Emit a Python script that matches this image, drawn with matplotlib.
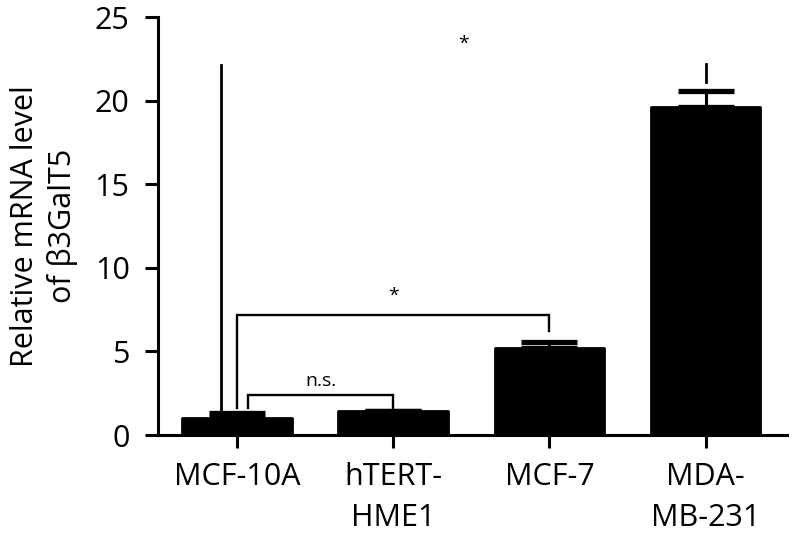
import matplotlib
matplotlib.use('Agg')
import matplotlib.pyplot as plt
import numpy as np

plt.rcParams['font.family'] = ['Open Sans', 'DejaVu Sans']

# values
categories = ['MCF-10A', 'hTERT-\nHME1', 'MCF-7', 'MDA-\nMB-231']
means = [1.02, 1.44, 5.2, 19.6]
err_up = [0.30, 0.0, 0.37, 1.0]
y_ticks = [0, 5, 10, 15, 20, 25]

# significance brackets: (x_left, x_right, y_top, y_left_end, y_right_end)
bracket_star = (0.0, 2.0, 7.2, 1.6, 6.2)
bracket_ns = (0.07, 1.0, 2.4, 1.6, 1.44)
# stray lines present in the original figure
long_line = (-0.10, 1.32, 22.1)
mda_line = (3.0, 21.1, 22.2)
# labels: (x, y, text)
annot = [(1.0, 8.0, '*'), (0.54, 2.95, 'n.s.'), (1.45, 23.1, '*')]

lw = 2.2
fig = plt.figure(figsize=(7.94, 5.38), dpi=100)
ax = fig.add_axes([0.199, 0.1914, 0.792, 0.777])

x = np.arange(len(categories))
ax.bar(x, means, width=0.70, color='black', edgecolor='black', linewidth=2,
       joinstyle='round', zorder=2)
ax.errorbar(x, means, yerr=[np.zeros(len(means)), err_up], fmt='none',
            ecolor='black', elinewidth=lw, capsize=20.5, capthick=3.8, zorder=3)

for (xl, xr, yt, yl, yr) in [bracket_star, bracket_ns]:
    ax.plot([xl, xl, xr, xr], [yl, yt, yt, yr], color='black', lw=1.7,
            solid_joinstyle='miter', zorder=4)

ax.plot([long_line[0], long_line[0]], [long_line[1], long_line[2]], color='black', lw=2.0, zorder=4)
ax.plot([mda_line[0], mda_line[0]], [mda_line[1], mda_line[2]], color='black', lw=2.0, zorder=4)

for (tx, ty, s) in annot:
    ax.text(tx, ty, s, ha='center', va='baseline', fontsize=14)

ax.set_xlim(-0.505, 3.52)
ax.set_ylim(0, 25)
ax.set_yticks(y_ticks)
ax.set_xticks(x)
ax.set_xticklabels(categories, fontsize=22, linespacing=1.5)
ax.tick_params(axis='y', labelsize=22, length=9.4, width=lw, pad=11)
ax.tick_params(axis='x', length=9.4, width=lw, pad=10)

for side in ['top', 'right']:
    ax.spines[side].set_visible(False)
for side in ['left', 'bottom']:
    ax.spines[side].set_linewidth(lw)

ax.set_ylabel('Relative mRNA level\nof \u03b23GalT5', fontsize=22, linespacing=1.3, labelpad=12)

plt.savefig('out.png', dpi=100)
